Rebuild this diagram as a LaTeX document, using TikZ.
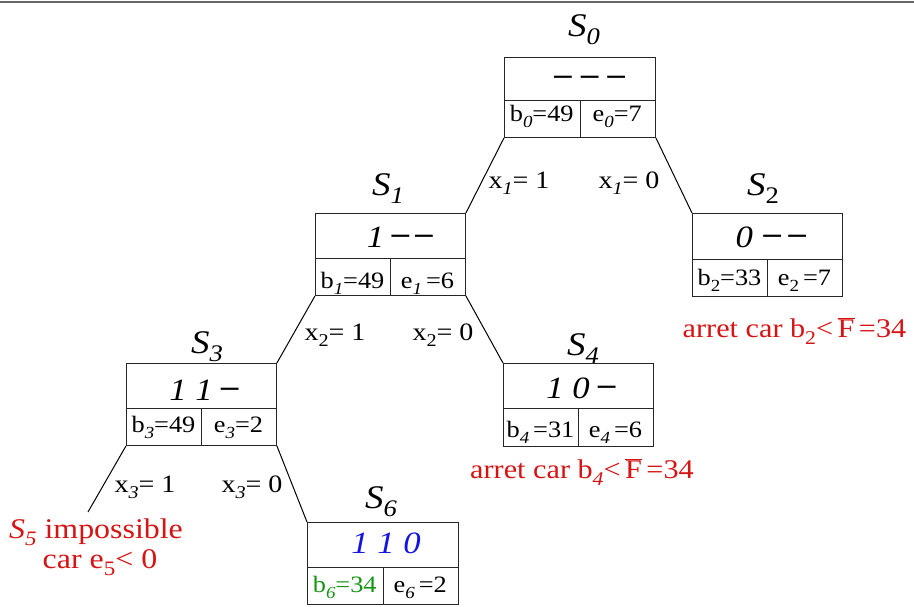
\documentclass[tikz,border=0pt]{standalone}
\usepackage{fontspec}
\setmainfont{Liberation Serif}[FakeStretch=1.12]
\definecolor{myred}{RGB}{215,20,20}
\definecolor{myblue}{RGB}{20,20,225}
\definecolor{mygreen}{RGB}{20,150,20}
\newcommand\sbs[1]{\raisebox{-0.26em}{\scalebox{0.72}{#1}}}
\newcommand\dd{\raisebox{0.12em}{\textbf{\textendash}}}
\newcommand\Fbar{\ensuremath{\overline{\hbox{F}}}}
\newcommand\stbox[6]{%
  \node[box, minimum width=#4pt, minimum height=#5pt] (#1) at (#2,#3) {};
  \draw[innerline] ([yshift=-#6pt]#1.north west) -- ([yshift=-#6pt]#1.north east);
  \draw[innerline] ([yshift=-#6pt]#1.north) -- (#1.south);
}
\begin{document}
\begin{tikzpicture}[x=1pt,y=-1pt,
  box/.style={draw=black!85, line width=0.9pt, inner sep=0pt, anchor=north west},
  innerline/.style={draw=black!85, line width=0.9pt},
  edge/.style={line width=1pt},
  toptxt/.style={anchor=base, inner sep=0pt, font=\fontsize{31}{31}\selectfont\itshape},
  celltxt/.style={anchor=base, inner sep=0pt, font=\fontsize{23.5}{23.5}\selectfont},
  slabel/.style={anchor=base, inner sep=0pt, font=\fontsize{33}{33}\selectfont\itshape},
  elabel/.style={anchor=base, inner sep=0pt, font=\fontsize{25}{25}\selectfont},
  redtxt/.style={anchor=base, inner sep=0pt, text=myred, font=\fontsize{27}{27}\selectfont},
  s5txt/.style={anchor=base, inner sep=0pt, text=myred, font=\fontsize{28.5}{28.5}\selectfont}]
\useasboundingbox (0,0) rectangle (914,606);
\draw[line width=1.5pt, black!60] (0,2) -- (914,2);

% boxes
\stbox{s0}{504}{57}{151}{80}{43}
\stbox{s1}{315}{213}{150}{82}{45}
\stbox{s2}{692}{213}{150}{83}{46}
\stbox{s3}{126}{363}{150}{82}{45}
\stbox{s4}{503}{363}{150}{83}{45}
\stbox{s6}{307}{522}{151}{82}{45}

% state labels
\node[slabel] (l0) at (584,36) {S\sbs{0}};
\node[slabel] (l1) at (388,195) {S\sbs{1}};
\node[slabel] (l2) at (763,195) {S\sbs{\upshape 2}};
\node[slabel] (l3) at (207,353) {S\sbs{3}};
\node[slabel] (l4) at (583,355) {S\sbs{4}};
\node[slabel] (l6) at (381,508) {S\sbs{6}};

% top row texts
\node[toptxt] (t0) at (590,88) {\dd\hspace{0.3em}\dd\hspace{0.3em}\dd};
\node[toptxt] (t1) at (400,247) {1\hspace{0.25em}\dd\hspace{0.2em}\dd};
\node[toptxt] (t2) at (771,247) {0\hspace{0.35em}\dd\hspace{0.25em}\dd};
\node[toptxt] (t3) at (204,400) {1 1 \dd};
\node[toptxt] (t4) at (581,398) {1 0 \dd};
\node[toptxt, text=myblue] (t6) at (386,553) {1 1 0};

% cell texts
\node[celltxt] (b0) at (541.75,121) {b\sbs{\textit{0}}=49};
\node[celltxt] (e0) at (617.25,121) {e\sbs{\textit{0}}=7};
\node[celltxt] (b1) at (352.5,288) {b\sbs{\textit{1}}=49};
\node[celltxt] (e1) at (427.5,288) {e\sbs{\textit{1}}\,=6};
\node[celltxt] (b2) at (729.5,285) {b\sbs{2}=33};
\node[celltxt] (e2) at (804.5,285) {e\sbs{2}\,=7};
\node[celltxt] (b3) at (163.5,432) {b\sbs{\textit{3}}=49};
\node[celltxt] (e3) at (238.5,432) {e\sbs{\textit{3}}=2};
\node[celltxt] (b4) at (540.5,437) {b\sbs{\textit{4}}\,=31};
\node[celltxt] (e4) at (615.5,437) {e\sbs{\textit{4}}\,=6};
\node[celltxt, text=mygreen] (b6) at (344.75,592) {b\sbs{\textit{6}}=34};
\node[celltxt] (e6) at (420.25,592) {e\sbs{\textit{6}}\,=2};

% connectors
\coordinate (s5) at (88,512);
\draw[edge] (s0.south west) -- (s1.north east);
\draw[edge] (s0.south east) -- (s2.north west);
\draw[edge] (s1.south west) -- (s3.north east);
\draw[edge] (s1.south east) -- (s4.north west);
\draw[edge] (s3.south west) -- (s5);
\draw[edge] (s3.south east) -- (s6.north west);

% edge labels
\node[elabel] (x11) at (519,188) {x\sbs{\textit{1}}= 1};
\node[elabel] (x10) at (629,188) {x\sbs{\textit{1}}= 0};
\node[elabel] (x21) at (335,340) {x\sbs{2}= 1};
\node[elabel] (x20) at (443,340) {x\sbs{2}= 0};
\node[elabel] (x31) at (145,492) {x\sbs{\textit{3}}= 1};
\node[elabel] (x30) at (252,492) {x\sbs{\textit{3}}= 0};

% red notes
\node[redtxt] (n2) at (794.5,337) {arret car b\sbs{2}<\,\Fbar\,=34};
\node[redtxt] (n4) at (582,478) {arret car b\sbs{\textit{4}}<\,\Fbar\,=34};
\node[s5txt] (n5a) at (96,538) {\textit{S}\sbs{\textit{5}} impossible};
\node[s5txt] (n5b) at (100,568) {car e\sbs{5}< 0};
\end{tikzpicture}
\end{document}
